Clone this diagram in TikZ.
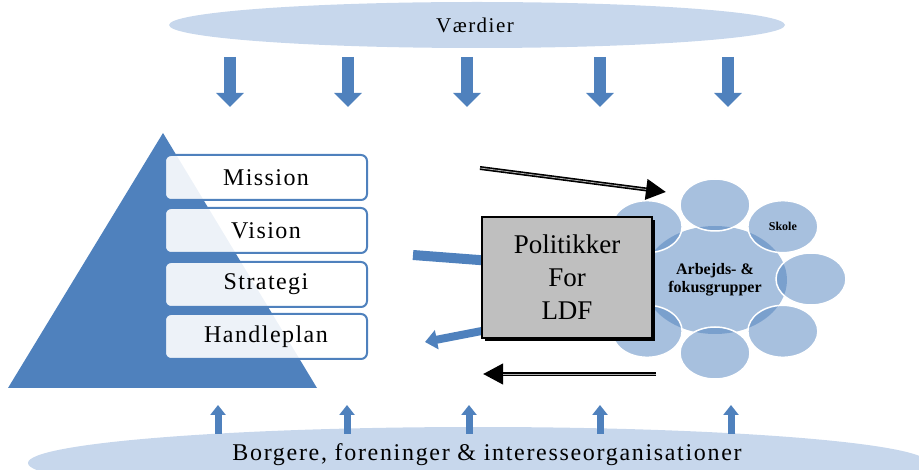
\documentclass[tikz,border=0pt]{standalone}
\usepackage{fontspec}
\setmainfont{Liberation Serif}
\newfontfamily\stagefont[LetterSpace=6]{Liberation Serif}
\newfontfamily\bandfont[LetterSpace=7]{Liberation Serif}
\usetikzlibrary{arrows.meta,shapes.geometric,shadows}
\definecolor{accent}{HTML}{4F81BD}
\definecolor{paleblue}{RGB}{199,215,236}
\definecolor{boxgray}{RGB}{191,191,191}
\tikzset{
  band/.style={ellipse, fill=paleblue, draw=none, inner sep=0pt},
  downarrow/.style={accent, line width=12pt, -{Triangle[length=14pt,width=27pt]}},
  uparrow/.style={accent, line width=7pt, -{Triangle[length=10pt,width=15pt]}},
  stagebox/.style={draw=accent, line width=2pt, rounded corners=6pt, fill=white, fill opacity=0.9, text opacity=1,
    minimum width=202pt, minimum height=45pt, inner sep=0pt, font=\stagefont\fontsize{24}{26}\selectfont},
  polbox/.style={draw=black, line width=2pt, fill=boxgray, minimum width=170pt, minimum height=121pt, inner sep=0pt,
    align=center, font=\fontsize{27}{33}\selectfont,
    general shadow={fill=black, shadow xshift=3pt, shadow yshift=-3pt}},
  hub/.style={ellipse, fill=accent, fill opacity=0.5, text opacity=1, minimum width=144pt, minimum height=108pt, inner sep=0pt,
    align=center, font=\fontsize{16}{18}\selectfont\bfseries},
  sat/.style={ellipse, fill=accent, fill opacity=0.5, draw=white, draw opacity=1, line width=1.5pt, text opacity=1,
    minimum width=70pt, minimum height=52pt, inner sep=0pt},
  bluearrow/.style={accent, line width=10pt},
  blueheadarrow/.style={accent, line width=8pt, -{Triangle[length=12pt,width=19pt]}},
  blackarrow/.style={black, line width=4pt, -{Triangle[length=20pt,width=20pt]}},
  stripe/.style={gray!60, line width=0.8pt, shorten >=20pt}
}
\begin{document}
\begin{tikzpicture}[x=1pt, y=-1pt]
\useasboundingbox (0,0) rectangle (919,470);
\clip (0,0) rectangle (919,470);
% top band
\node[band, minimum width=616pt, minimum height=46pt] (values) at (477,25) {};
\node[font=\bandfont\fontsize{21}{23}\selectfont] (valuestext) at (475,25) {Værdier};
% down arrows
\foreach \i/\x in {1/230,2/348,3/467,4/600,5/728}{
  \coordinate (ds\i) at (\x,57);
  \coordinate (de\i) at (\x,107);
  \draw[downarrow] (ds\i) -- (de\i);
}
% pyramid
\fill[accent] (163,133) -- (317,388) -- (8,388) -- cycle;
% stages
\node[stagebox] (mission) at (266,177.5) {Mission};
\node[stagebox] (vision) at (266,230.5) {Vision};
\node[stagebox] (strategi) at (266,284.5) {Strategi};
\node[stagebox] (handleplan) at (266,336.5) {Handleplan};
% cluster
\node[hub] (hubnode) at (715,280) {Arbejds- \&\\fokusgrupper};
\foreach \i/\a in {1/90,2/45,3/0,4/-45,5/-90,6/-135,7/180,8/135}{
  \node[sat] (s\i) at ({715+96*cos(\a)},{279-74*sin(\a)}) {};
}
\node[font=\fontsize{12}{14}\selectfont\bfseries] (skole) at (s2) {Skole};
% blue arrows to/from the policy box
\coordinate (bin) at (413,255);
\coordinate (binend) at (492,261);
\draw[bluearrow] (bin) -- (binend);
\coordinate (boutstart) at (492,329);
\coordinate (bout) at (425,342);
\draw[blueheadarrow] (boutstart) -- (bout);
% policy box
\node[polbox] (pol) at (567,277.5) {Politikker\\For\\LDF};
% black arrows
\coordinate (ka) at (480,168);
\coordinate (kb) at (666,192);
\draw[blackarrow] (ka) -- (kb);
\draw[stripe] (ka) -- (kb);
\coordinate (kc) at (656,374);
\coordinate (kd) at (483,374);
\draw[blackarrow] (kc) -- (kd);
\draw[stripe] (kc) -- (kd);
% bottom band
\node[band, minimum width=900pt, minimum height=72pt] (citizens) at (478,463) {};
\node[font=\bandfont\fontsize{24}{26}\selectfont] (citizenstext) at (487,455) {Borgere, foreninger \& interesseorganisationer};
% up arrows
\foreach \i/\x in {1/218,2/347,3/469,4/600,5/731}{
  \coordinate (us\i) at (\x,434);
  \coordinate (ue\i) at (\x,405);
  \draw[uparrow] (us\i) -- (ue\i);
}
\end{tikzpicture}
\end{document}
